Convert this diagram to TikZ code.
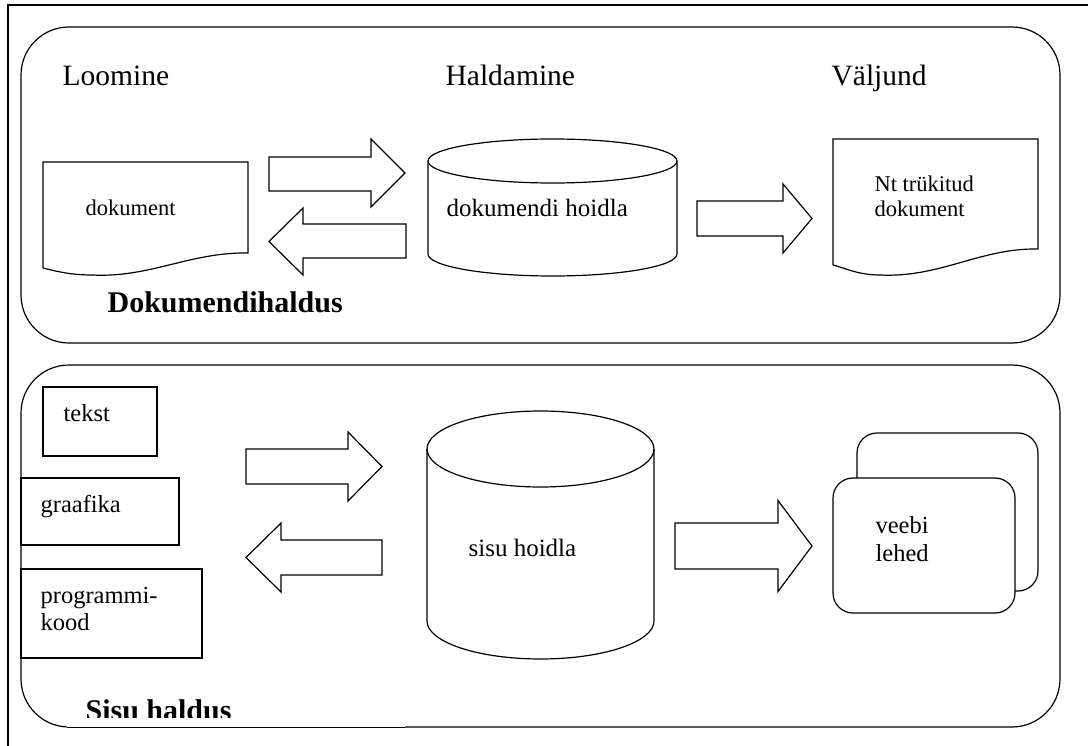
\documentclass[tikz,border=0pt]{standalone}
\usepackage{fontspec}
\setmainfont{Liberation Serif}
\tikzset{
  lbl/.style={anchor=base west, inner sep=0pt, font=\fontsize{25}{25}\selectfont},
  title/.style={lbl, font=\fontsize{29.5}{29.5}\selectfont},
  boldlbl/.style={lbl, font=\fontsize{30}{30}\selectfont\bfseries},
  smalllbl/.style={lbl, font=\fontsize{22.5}{22.5}\selectfont},
  boxlbl/.style={lbl, font=\fontsize{24.5}{24.5}\selectfont},
  blockarrow/.style={draw, fill=white, line join=miter},
  panel/.style={draw, rounded corners=48pt},
  page/.style={draw, fill=white, rounded corners=20pt},
  itembox/.style={draw}
}
\begin{document}
\begin{tikzpicture}[x=1pt,y=-1pt,line width=1.2pt]
\useasboundingbox (0,0) rectangle (1088,746);
% outer frame
\draw (1088,5) -- (8,5) -- (8,746);

% ===== top panel =====
\draw[panel] (21,27) rectangle (1060,343);
\node[title] (loomine) at (62,86) {Loomine};
\node[title] (haldamine) at (445,86) {Haldamine};
\node[title] (valjund) at (831,86) {Väljund};

% document (left)
\draw (43,268) -- (43,162) -- (248,162) -- (248,253)
  .. controls (190,252) and (150,278) .. (92,275)
  .. controls (70,275) and (55,271) .. (43,268);
\node[smalllbl] (dok) at (85,216) {dokument};

% arrows top
\path[blockarrow] (269,157) -- (371,157) -- (371,139) -- (405,173)
  -- (371,207) -- (371,191) -- (269,191) -- cycle;
\path[blockarrow] (406,224) -- (303,224) -- (303,208) -- (269,241.5)
  -- (303,275) -- (303,258) -- (406,258) -- cycle;

% cylinder top
\draw (428,161) -- (428,254) arc (180:0:124.5 and 22) -- (677,161);
\draw (552.5,161) ellipse (124.5 and 22);
\node[lbl] (dokhoidla) at (446,217) {dokumendi hoidla};

% arrow to printed doc
\path[blockarrow] (697,201) -- (783,201) -- (783,184) -- (812,218.5)
  -- (783,253) -- (783,236) -- (697,236) -- cycle;

% printed document
\draw (833,265) -- (833,139) -- (1038,139) -- (1038,249)
  .. controls (980,248) and (940,278) .. (880,275)
  .. controls (858,275) and (845,268) .. (833,265);
\node[smalllbl] (nt1) at (874,192) {Nt trükitud};
\node[smalllbl] (nt2) at (874,217) {dokument};

\node[boldlbl] (dokhaldus) at (107,313) {Dokumendihaldus};

% ===== bottom panel =====
\draw[panel] (21,365) rectangle (1060,727);

\draw[itembox] (43,387) rectangle (157,456);
\node[boxlbl] (tekst) at (63,421) {tekst};
\draw[itembox] (21,478) rectangle (179,545);
\node[boxlbl] (graafika) at (40,512) {graafika};
\draw[itembox] (21,569) rectangle (202,658);
\node[boxlbl] (prog1) at (40,603) {programmi-};
\node[boxlbl] (prog2) at (40,630.5) {kood};

\path[blockarrow] (246,449) -- (348,449) -- (348,432) -- (382,466.5)
  -- (348,501) -- (348,484) -- (246,484) -- cycle;
\path[blockarrow] (382,540) -- (281,540) -- (281,523) -- (246,557.5)
  -- (281,592) -- (281,575) -- (382,575) -- cycle;

% cylinder bottom
\draw (427,449) -- (427,621) arc (180:0:113.5 and 38) -- (654,449);
\draw (540.5,449) ellipse (113.5 and 38);
\node[lbl] (sisuhoidla) at (468,556) {sisu hoidla};

\path[blockarrow] (675,523) -- (778,523) -- (778,500.5) -- (812,546)
  -- (778,591.5) -- (778,569) -- (675,569) -- cycle;

% web pages
\draw[page] (857,433) rectangle (1038,591);
\draw[page] (833,478) rectangle (1015,613);
\node[boxlbl] (veebi) at (875,533) {veebi};
\node[boxlbl] (lehed) at (875,561) {lehed};

% label clipped at bottom
\fill[white] (67,690) rectangle (405,729);
\draw[line width=0.7pt] (67,727) -- (405,727);
\begin{scope}
  \clip (60,680) rectangle (420,717);
  \node[boldlbl] (sisuhaldus) at (85,720) {Sisu haldus};
\end{scope}
\end{tikzpicture}
\end{document}
